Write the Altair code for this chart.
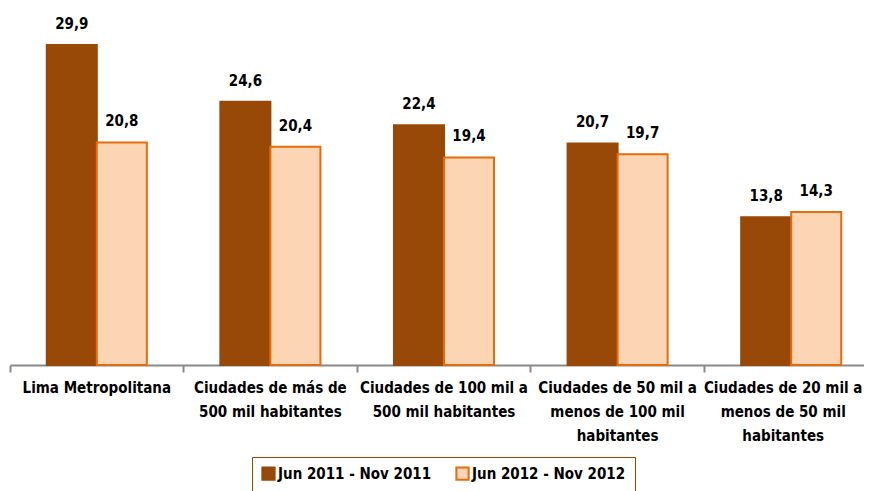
import altair as alt
import pandas as pd

categories = [
    "Lima Metropolitana",
    "Ciudades de más de|500 mil habitantes",
    "Ciudades de 100 mil a|500 mil habitantes",
    "Ciudades de 50 mil a|menos de 100 mil|habitantes",
    "Ciudades de 20 mil a|menos de 50 mil|habitantes",
]
series = ["Jun 2011 - Nov 2011", "Jun 2012 - Nov 2012"]
values_2011 = [29.9, 24.6, 22.4, 20.7, 13.8]
values_2012 = [20.8, 20.4, 19.4, 19.7, 14.3]

rows = []
for c, a, b in zip(categories, values_2011, values_2012):
    rows.append({"cat": c, "serie": series[0], "value": a})
    rows.append({"cat": c, "serie": series[1], "value": b})
df = pd.DataFrame(rows)

FONT = "DejaVu Sans Condensed, Liberation Sans, sans-serif"
FS = 15
dark = "#984807"
light = "#FCD5B5"
orange = "#E46C0A"

leg = dict(title=None, orient="none", legendX=242, legendY=449,
           direction="horizontal", symbolType="square",
           symbolSize=150, symbolStrokeWidth=2,
           labelFont=FONT, labelFontSize=FS, labelFontWeight="bold",
           labelColor="#000000", columnPadding=20, labelOffset=2,
           padding=9, strokeColor=dark, labelLimit=0)

base = alt.Chart(df).encode(
    x=alt.X("cat:N", sort=categories, title=None,
            scale=alt.Scale(paddingInner=0, paddingOuter=0, range=[0, 868]),
            axis=alt.Axis(labelExpr="split(datum.label, '|')", labelAngle=0,
                          labelFont=FONT, labelFontSize=FS, labelFontWeight="bold",
                          labelColor="#000000", labelLineHeight=24, labelLimit=0,
                          labelPadding=8, bandPosition=0, tickSize=7,
                          tickColor="#898989", tickWidth=2, domainColor="#898989",
                          domainWidth=2, grid=False, labelBaseline="top",
                          labelOffset={"condition": {"test": "indexof(datum.value, '20 mil') >= 0",
                                                     "value": -8},
                                       "value": 0})),
    xOffset=alt.XOffset("serie:N", sort=series,
                        scale=alt.Scale(paddingInner=0, paddingOuter=0.735)),
    y=alt.Y("value:Q", scale=alt.Scale(domain=[0, 33.36], nice=False), axis=None),
)

bars = base.mark_bar(strokeWidth=2).encode(
    fill=alt.Fill("serie:N", sort=series,
                  scale=alt.Scale(domain=series, range=[dark, light]),
                  legend=alt.Legend(**leg)),
    stroke=alt.Stroke("serie:N", sort=series,
                      scale=alt.Scale(domain=series, range=[dark, orange]),
                      legend=alt.Legend(**leg)),
)

labels = base.transform_calculate(
    lab="replace(format(datum.value, '.1f'), '.', ',')"
).mark_text(font=FONT, fontSize=FS, fontWeight="bold", color="#000000",
            baseline="alphabetic", dy=-16).encode(text="lab:N")

chart = (bars + labels).properties(
    width=854, height=357,
    autosize=alt.AutoSizeParams(type="none"),
    padding={"left": 2, "top": 0, "right": 0, "bottom": 126},
).configure_view(stroke=None)

chart.save("out.html", embed_options={"renderer": "svg", "actions": False})
